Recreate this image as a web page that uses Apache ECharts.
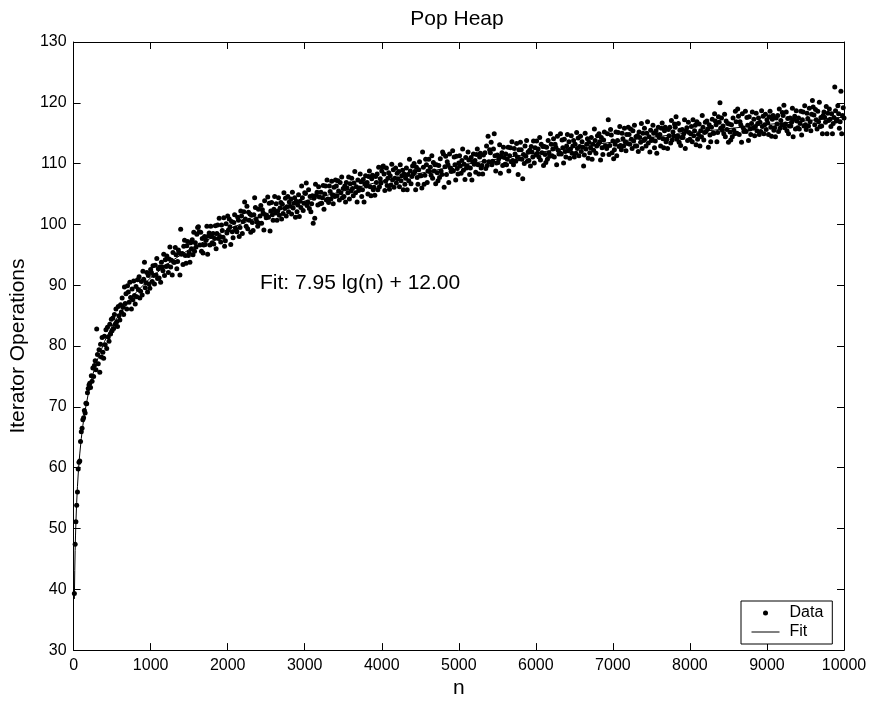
<!DOCTYPE html>
<html><head><meta charset="utf-8">
<script src="https://cdn.jsdelivr.net/npm/echarts@6/dist/echarts.min.js"></script>
<style>html,body{margin:0;padding:0;background:#fff}#c{width:872px;height:704px}</style>
</head><body><div id="c"></div>
<script>
// Measured values, n = 10, 20, ..., 10000 (one array per 1000 of n)
const y0k = [39.3,47.4,51.1,53.8,56.0,59.8,60.9,61.1,64.3,65.9,
66.5,67.9,68.2,69.4,69.0,70.6,70.5,72.3,73.0,73.6,
73.9,73.2,75.1,74.2,76.4,75.0,76.8,77.6,76.1,82.8,
78.6,77.1,79.4,75.7,80.3,78.2,81.4,79.0,78.0,81.6,
80.2,82.7,79.6,83.1,81.5,80.8,83.6,82.0,84.4,82.5,
84.6,82.9,85.2,83.6,86.1,84.0,83.2,86.5,85.0,84.3,
86.8,85.6,87.9,86.4,85.2,89.7,87.0,88.6,86.1,89.9,
88.9,87.2,90.5,88.0,86.1,89.4,87.6,90.7,88.3,86.9,
89.8,88.1,90.9,89.3,91.4,87.9,89.0,90.6,88.4,92.3,
91.0,93.8,89.6,90.4,92.1,88.9,91.6,90.2,89.5,92.6];
const y1k = [92.1,90.6,93.2,91.6,90.2,93.3,91.7,94.4,91.1,92.7,
91.2,93.0,90.5,93.8,93.0,92.4,95.1,91.6,94.2,93.1,
94.8,93.2,92.1,94.3,96.3,93.0,94.1,91.7,95.4,93.8,
93.8,96.2,95.0,92.7,93.9,95.8,95.3,91.7,99.2,95.1,
95.2,93.4,96.4,97.4,94.9,93.6,96.5,97.2,94.9,95.4,
93.8,97.0,96.0,97.5,95.0,98.7,95.6,97.0,96.3,98.4,
99.5,99.6,98.8,96.6,98.7,95.6,97.7,95.3,96.6,98.0,
96.7,97.4,99.7,95.1,98.1,98.6,96.6,99.7,98.0,97.0,
98.5,96.8,97.7,99.8,96.0,98.5,99.9,97.7,101.0,98.0,
97.1,99.9,99.0,97.9,101.1,96.4,97.3,100.1,98.6,101.4];
const y2k = [99.1,100.9,99.6,96.7,100.5,98.8,97.8,100.3,101.6,99.4,
99.1,98.8,101.2,100.7,98.0,99.5,102.2,101.4,98.5,100.5,
102.1,103.7,100.9,99.7,103.0,99.3,102.0,100.7,101.7,98.7,
101.5,100.3,99.0,101.6,104.4,102.8,100.9,100.4,99.7,102.5,
100.2,101.4,103.1,100.2,102.4,101.9,99.1,103.9,101.6,101.1,
101.4,104.5,101.2,103.5,98.9,102.2,103.6,101.6,100.7,102.5,
104.6,101.9,103.4,100.7,102.2,104.4,101.5,102.7,103.6,100.9,
103.3,101.8,105.2,102.6,104.3,101.4,102.9,104.6,102.1,103.7,
103.0,104.2,101.7,105.3,102.7,103.5,104.4,101.2,103.8,102.1,
103.2,104.9,101.3,103.8,102.8,106.3,104.4,102.3,103.5,105.2];
const y3k = [105.1,106.8,103.1,103.7,105.7,102.6,104.6,102.1,103.4,104.7,
100.2,104.3,101.0,106.6,104.8,105.3,103.2,106.2,104.5,103.4,
105.3,103.5,104.4,106.4,102.5,105.0,106.3,104.0,107.3,104.2,
103.6,106.3,105.4,104.2,107.1,104.9,103.4,106.1,104.6,107.3,
106.3,104.7,107.2,105.5,104.0,106.9,105.2,107.8,104.4,105.9,
104.6,106.3,103.7,106.9,106.0,105.2,107.8,104.2,106.7,105.5,
107.6,105.9,104.7,106.8,108.7,105.2,106.2,103.7,107.3,105.6,
106.0,108.3,107.0,104.6,105.7,107.4,103.7,106.7,108.0,106.3,
106.9,105.0,107.9,108.8,106.2,104.7,107.5,108.1,105.7,106.1,
104.8,107.9,106.9,108.3,105.7,109.4,106.2,107.5,106.8,108.8];
const y4k = [109.5,109.6,108.3,105.6,107.1,109.3,106.4,107.6,108.5,105.8,
108.0,106.5,109.9,107.3,109.0,106.1,107.6,109.3,106.8,108.4,
107.5,108.7,106.2,109.8,107.2,108.0,108.9,105.7,108.3,106.6,
107.6,109.3,105.7,108.2,107.2,110.7,108.8,106.7,107.9,109.6,
108.3,110.0,108.7,105.7,109.4,107.7,106.6,109.0,110.3,108.0,
108.0,106.0,111.9,109.4,106.6,108.1,110.7,109.8,106.9,108.8,
110.7,108.7,109.4,108.1,111.3,107.6,110.2,108.8,109.8,106.7,
109.8,108.5,107.2,109.7,107.7,110.8,108.8,108.2,111.9,111.6,
106.1,109.5,111.2,108.2,110.3,109.8,106.9,111.6,109.3,108.7,
109.0,112.1,108.8,111.1,109.8,107.3,111.2,109.2,108.3,110.1];
const y5k = [111.3,109.6,108.4,110.5,112.4,108.9,109.9,107.4,111.0,109.3,
109.6,111.9,110.6,108.2,109.3,111.0,107.3,110.3,111.6,109.9,
110.5,108.6,111.5,112.4,109.8,108.3,111.1,111.7,109.3,109.7,
108.3,111.4,110.4,111.8,109.2,112.9,109.7,114.5,110.3,112.3,
111.8,113.5,109.8,110.4,112.4,114.9,111.3,108.8,110.1,111.4,
110.2,110.8,113.1,108.4,111.3,111.8,109.7,112.7,111.0,109.9,
111.6,109.8,110.7,112.7,108.8,111.3,112.6,110.3,113.6,110.5,
109.8,112.5,111.6,110.4,113.3,111.1,108.2,112.3,110.8,113.5,
112.3,110.7,107.5,111.5,110.0,112.9,111.2,113.8,110.4,111.9,
110.5,112.2,109.6,112.8,111.9,111.1,113.7,110.1,112.6,111.4];
const y6k = [113.7,111.7,112.4,111.1,114.3,110.6,113.2,111.8,112.8,109.7,
112.8,111.5,110.2,112.7,110.7,113.8,111.8,111.2,114.9,113.2,
111.3,112.4,114.1,111.1,113.2,112.7,109.8,114.5,112.2,111.6,
111.8,114.9,111.6,113.9,112.6,110.1,114.0,112.0,111.1,112.9,
114.8,112.1,113.6,110.9,112.4,114.6,111.7,112.9,113.8,111.1,
113.2,111.7,115.1,112.5,114.2,111.3,112.8,114.5,112.0,113.6,
112.7,109.6,111.4,115.0,112.4,113.2,114.1,110.9,113.5,111.8,
112.6,114.3,110.7,113.2,112.2,115.7,113.8,111.7,112.9,114.6,
113.2,114.9,113.6,110.6,114.3,112.6,111.5,113.9,115.2,112.9,
112.9,112.5,114.9,117.2,111.5,113.0,115.6,114.7,111.8,113.7];
const y7k = [110.8,112.3,113.2,115.2,111.3,113.8,115.1,112.8,116.1,113.0,
112.3,115.0,114.1,112.9,115.8,113.6,112.1,114.8,113.3,116.0,
114.8,113.2,115.7,114.0,112.5,115.4,113.7,116.3,112.9,114.4,
112.9,114.6,112.0,115.2,114.3,113.5,116.6,112.5,115.0,113.8,
115.8,114.1,112.9,115.0,116.9,113.4,114.4,111.9,115.5,113.8,
114.0,116.3,115.0,112.6,113.7,115.4,111.7,114.7,116.0,114.3,
114.8,112.9,115.8,116.7,114.1,112.6,115.4,116.0,113.6,114.0,
112.5,115.6,114.6,116.0,113.4,117.1,113.9,115.2,114.5,116.5,
116.0,117.7,114.0,114.6,116.6,113.5,115.5,113.0,114.3,115.6,
114.3,114.9,117.2,112.5,115.4,115.9,113.8,116.8,115.1,114.0];
const y8k = [114.9,116.1,113.6,117.2,114.6,115.4,116.3,113.1,116.9,114.0,
114.8,116.5,112.9,115.4,114.4,117.9,116.0,113.9,115.1,116.8,
115.3,117.0,115.7,112.7,116.4,114.7,113.6,116.0,117.3,115.0,
115.0,118.2,117.0,116.4,113.6,115.1,117.7,116.8,120.0,115.8,
117.5,115.5,116.2,114.9,118.1,114.4,117.0,115.6,116.6,113.5,
116.5,115.2,113.9,116.4,114.4,117.5,115.5,114.9,118.6,116.9,
115.0,119.0,117.8,114.8,116.9,116.4,113.5,118.2,115.9,115.3,
115.5,118.6,115.3,117.6,116.3,113.8,117.7,115.7,114.8,116.6,
118.5,115.8,117.3,114.6,116.1,118.3,115.4,116.6,117.5,114.8,
116.8,115.3,118.7,116.1,117.8,114.9,116.4,118.1,115.6,117.2];
const y9k = [116.7,114.8,117.7,118.6,116.0,114.5,117.3,117.9,115.5,115.9,
114.4,117.5,116.5,117.9,115.3,119.0,115.8,117.1,116.4,118.4,
117.9,119.6,115.9,116.5,118.5,115.4,117.4,114.9,116.2,117.5,
116.2,116.8,119.1,114.4,117.3,117.8,115.7,118.7,117.0,115.9,
117.5,115.7,116.6,118.6,114.7,117.2,118.5,116.2,119.5,116.4,
115.6,118.3,117.4,116.2,119.1,116.9,115.4,118.1,120.4,119.3,
118.0,116.4,118.9,117.2,115.7,118.6,116.9,120.1,116.1,117.6,
116.2,114.9,117.9,118.5,117.6,116.8,119.4,114.9,118.3,117.1,
119.0,117.3,116.1,118.2,114.9,116.6,117.6,122.6,118.7,117.0,
117.2,119.5,118.2,115.8,116.9,121.9,114.9,117.9,119.2,117.5];
const nStep = 10;

// Fit curve
const fitN = [10,15,20,25,30,40,50,60,70,80,100,120,150,200,250,300,400,500,600,800,1000,1250,1500,2000,2500,3000,4000,5000,6000,7000,8000,9000,10000];
const fitY = [38.41,43.06,46.36,48.92,51.01,54.31,56.87,58.96,60.73,62.26,64.82,66.91,69.47,72.77,75.33,77.42,80.72,83.28,85.37,88.67,91.23,93.79,95.88,99.18,101.74,103.83,107.13,109.69,111.78,113.55,115.08,116.43,117.64];

const xTickLabels = ['0','1000','2000','3000','4000','5000','6000','7000','8000','9000','10000'];
const yTickLabels = ['30','40','50','60','70','80','90','100','110','120','130'];

const dataY = [].concat(y0k, y1k, y2k, y3k, y4k, y5k, y6k, y7k, y8k, y9k);
const scatterData = dataY.map((y, i) => [(i + 1) * nStep, y]);
const fitData = fitN.map((n, i) => [n, fitY[i]]);

const FONT = '"Liberation Sans", Arial, Helvetica, sans-serif';
const xMin = Number(xTickLabels[0]), xMax = Number(xTickLabels[xTickLabels.length - 1]);
const yMin = Number(yTickLabels[0]), yMax = Number(yTickLabels[yTickLabels.length - 1]);

function baseAxis(min, max, interval, pos, showLabel) {
  return {
    type: 'value', min: min, max: max, interval: interval, position: pos,
    axisLine: { show: true, onZero: false, lineStyle: { color: '#000', width: 1 } },
    axisTick: { show: true, inside: true, length: 7, lineStyle: { color: '#000', width: 1 } },
    axisLabel: { show: showLabel, color: '#000', fontSize: 16, fontFamily: FONT, margin: 7,
                 showMinLabel: true, showMaxLabel: true,
                 formatter: function (v) { return String(v); } },
    splitLine: { show: false }
  };
}

const xBottom = Object.assign(baseAxis(xMin, xMax, 1000, 'bottom', true), {
  name: 'n', nameLocation: 'middle', nameGap: 25,
  nameTextStyle: { color: '#000', fontSize: 21, fontFamily: FONT }
});
const xTop = baseAxis(xMin, xMax, 1000, 'top', false);
const yLeft = Object.assign(baseAxis(yMin, yMax, 10, 'left', true), {
  name: 'Iterator Operations', nameLocation: 'middle', nameGap: 42,
  nameTextStyle: { color: '#000', fontSize: 21, fontFamily: FONT }
});
const yRight = baseAxis(yMin, yMax, 10, 'right', false);

const chart = echarts.init(document.getElementById('c'), null, { renderer: 'canvas' });
chart.setOption({
  animation: false,
  backgroundColor: '#fff',
  grid: { left: 70, right: 28, top: 42, bottom: 52, containLabel: false },
  xAxis: [xBottom, xTop],
  yAxis: [yLeft, yRight],
  legend: {
    orient: 'vertical', left: 741, top: 601,
    padding: [4, 9, 4, 10], itemGap: 3, itemWidth: 28, itemHeight: 5,
    borderColor: '#000', borderWidth: 1, borderRadius: 0, backgroundColor: '#fff',
    textStyle: { color: '#000', fontSize: 16, fontFamily: FONT, padding: [0, 0, 0, 5] },
    selectedMode: false,
    data: [
      { name: 'Data', icon: 'circle', itemStyle: { color: '#000' } },
      { name: 'Fit', itemStyle: { opacity: 0 }, lineStyle: { width: 1, color: '#000' } }
    ]
  },
  graphic: [
    { type: 'text', x: 457, y: 19, silent: true,
      style: { text: 'Pop Heap', fontSize: 21, fontFamily: FONT, fill: '#000', align: 'center', verticalAlign: 'middle' } },
    { type: 'text', x: 260, y: 283, silent: true,
      style: { text: 'Fit: 7.95 lg(n) + 12.00', fontSize: 21, fontFamily: FONT, fill: '#000', align: 'left', verticalAlign: 'middle' } }
  ],
  series: [
    { name: 'Data', type: 'scatter', xAxisIndex: 0, yAxisIndex: 0, data: scatterData,
      symbol: 'circle', symbolSize: 5, itemStyle: { color: '#000', opacity: 1 }, z: 2, large: false },
    { name: 'Fit', type: 'line', xAxisIndex: 0, yAxisIndex: 0, data: fitData,
      symbol: 'none', showSymbol: false, smooth: false,
      lineStyle: { color: '#000', width: 1 }, itemStyle: { color: '#000' }, z: 3 }
  ]
});
</script></body></html>
